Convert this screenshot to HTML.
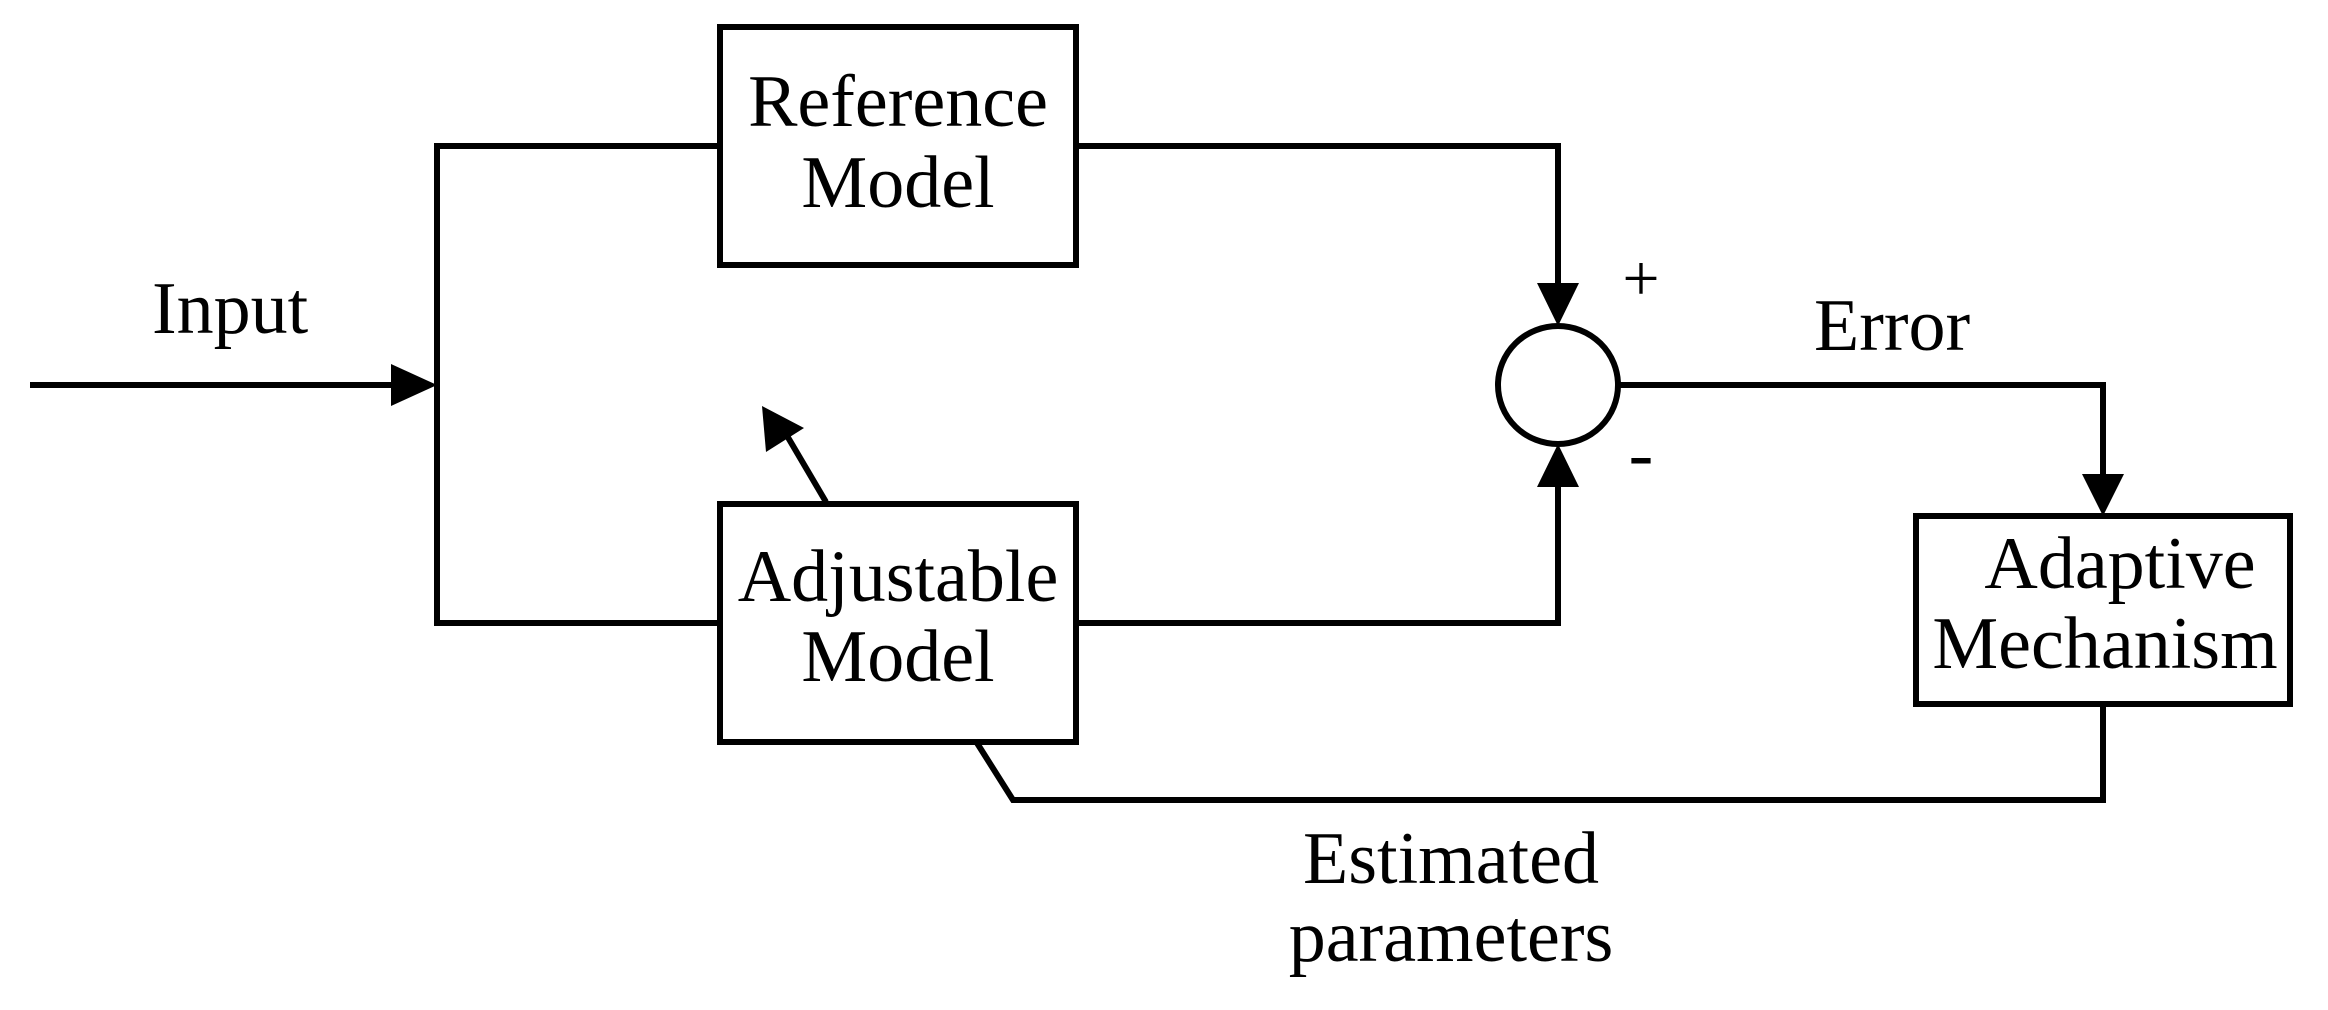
<!DOCTYPE html>
<html><head><meta charset="utf-8"><style>
html,body{margin:0;padding:0;background:#fff;}
svg{display:block;}
text{font-family:"Liberation Serif",serif;font-size:74px;fill:#000;}
</style></head><body>
<svg width="2328" height="1010" viewBox="0 0 2328 1010" xmlns="http://www.w3.org/2000/svg">
<g stroke="#000" stroke-width="6" fill="none">
<rect x="720" y="27" width="356" height="238"/>
<rect x="720" y="504" width="356" height="238"/>
<rect x="1916" y="516" width="374" height="188"/>
<ellipse cx="1558" cy="385" rx="60" ry="59"/>
<polyline points="30,385 395,385"/>
<polyline points="720,146 437,146 437,623 720,623"/>
<polyline points="1076,146 1558,146 1558,290"/>
<polyline points="1076,623 1558,623 1558,480"/>
<polyline points="1618,385 2103,385 2103,480"/>
<polyline points="2103,704 2103,800 1013,800 977,743"/>
<line x1="826" y1="502" x2="786" y2="434"/>
</g>
<g fill="#000">
<polygon points="437,385 391,364 391,406"/>
<polygon points="1558,326 1537,283 1579,283"/>
<polygon points="1558,444 1537,487 1579,487"/>
<polygon points="2103,516 2082,474 2124,474"/>
<polygon points="762,406 766,452 804,428"/>
</g>
<text x="152" y="333">Input</text>
<text x="898" y="126" text-anchor="middle">Reference</text>
<text x="898" y="207" text-anchor="middle">Model</text>
<text x="898" y="601" text-anchor="middle">Adjustable</text>
<text x="898" y="681" text-anchor="middle">Model</text>
<text x="1814" y="350">Error</text>
<text x="2120" y="588" text-anchor="middle">Adaptive</text>
<text x="2105" y="668" text-anchor="middle">Mechanism</text>
<text x="1451" y="883" text-anchor="middle">Estimated</text>
<text x="1451" y="961" text-anchor="middle">parameters</text>
<text x="1641" y="300" text-anchor="middle" style="font-size:66px">+</text>
<text x="1641" y="478" text-anchor="middle" style="font-size:74px">-</text>
</svg>
</body></html>
